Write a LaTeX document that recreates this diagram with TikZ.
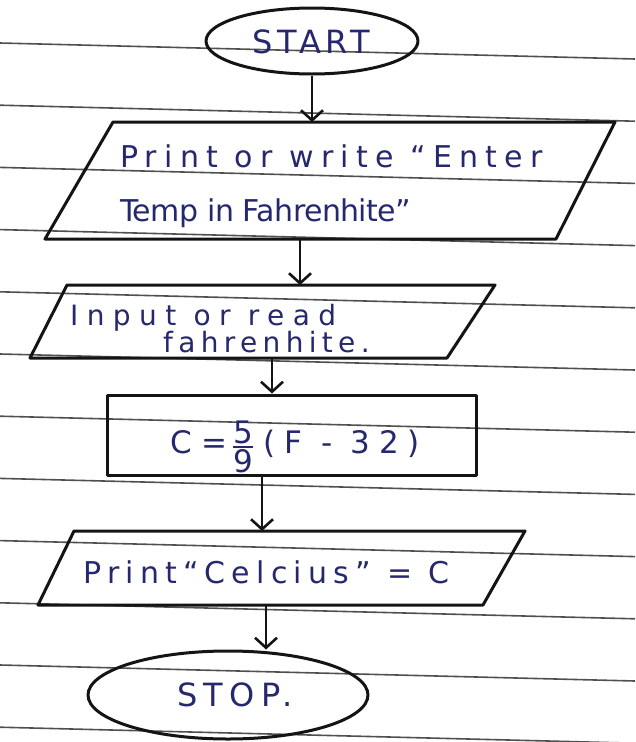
\documentclass[tikz,border=0pt]{standalone}
\usepackage{fontspec}
\usetikzlibrary{shapes.geometric,arrows.meta}
\newfontfamily\handfont{DejaVu Sans}
\newcommand\hwfont[2]{\handfont\fontsize{#1}{#1}\selectfont\addfontfeature{LetterSpace=#2}}
\definecolor{ink}{RGB}{38,40,110}
\definecolor{pen}{RGB}{20,20,20}
\definecolor{ruling}{RGB}{80,80,80}
\begin{document}
\begin{tikzpicture}[x=1pt,y=-1pt,
  outline/.style={draw=pen, line width=3pt, inner sep=0pt, line join=round},
  term/.style={outline, ellipse},
  procbox/.style={outline, rectangle},
  flow/.style={draw=pen, line width=2.6pt, -{Straight Barb[length=10pt,width=22pt]}},
  hand/.style={text=ink, inner sep=0pt},
  paperline/.style={draw=ruling, line width=1.6pt}]
\useasboundingbox[fill=white] (0,0) rectangle (635,742);
\foreach \k in {0,...,11} \draw[paperline] (0,43+62.2*\k) -- (635,59+62.2*\k);

% terminals and process box
\node[term, minimum width=212pt, minimum height=66pt] (start) at (312,41) {};
\node[procbox, minimum width=369pt, minimum height=80pt] (calc) at (292,435) {};
\node[term, minimum width=280pt, minimum height=88pt] (stop) at (228,695) {};

% input/output parallelograms
\coordinate (p1tl) at (113,122); \coordinate (p1tr) at (615,122);
\coordinate (p1br) at (556,239); \coordinate (p1bl) at (45,239);
\coordinate (p2tl) at (67,285);  \coordinate (p2tr) at (495,285);
\coordinate (p2br) at (447,358); \coordinate (p2bl) at (30,358);
\coordinate (p3tl) at (74,531);  \coordinate (p3tr) at (525,531);
\coordinate (p3br) at (483,605); \coordinate (p3bl) at (38,605);
\draw[outline] (p1tl) -- (p1tr) -- (p1br) -- (p1bl) -- cycle;
\draw[outline] (p2tl) -- (p2tr) -- (p2br) -- (p2bl) -- cycle;
\draw[outline] (p3tl) -- (p3tr) -- (p3br) -- (p3bl) -- cycle;

% texts
\node[hand, anchor=base west, font=\hwfont{32}{15}] (startlbl) at (252,53) {START};
\node[hand, anchor=base west, font=\hwfont{30}{24}] (p1a) at (120,167) {Print or write “Enter};
\node[hand, anchor=base west, font=\hwfont{30}{-2}] (p1b) at (120,221) {Temp in Fahrenhite”};
\node[hand, anchor=base west, font=\hwfont{28}{30}] (p2a) at (70,325) {Input or read};
\node[hand, anchor=base west, font=\hwfont{28}{19}] (p2b) at (163,352) {fahrenhite.};
\node[hand, anchor=west, font=\hwfont{31}{28}] (calclbl) at (170,447) {C\hspace{10pt}=\hspace{4pt}${\mbox{5}\above 1.6pt\mbox{9}}$\hspace{10pt}(F - 32)};
\node[hand, anchor=base west, font=\hwfont{30}{21}] (p3a) at (83,583) {Print“Celcius” = C};
\node[hand, anchor=base west, font=\hwfont{32}{20}] (stoplbl) at (177,706) {STOP.};

% connector end points on the parallelogram edges
\coordinate (p1in)  at (start.south |- p1tl);
\coordinate (p1out) at (300,239);
\coordinate (p2in)  at (p1out |- p2tl);
\coordinate (p2out) at (272,358);
\coordinate (p3in)  at ([xshift=-30pt]calc.south |- p3tl);
\coordinate (p3out) at (266,605);

\draw[flow] (start.south) -- (p1in);
\draw[flow] (p1out) -- (p2in);
\draw[flow] (p2out) -- (p2out |- calc.north);
\draw[flow] ([xshift=-30pt]calc.south) -- (p3in);
\draw[flow] (p3out) -- (p3out |- stop.north);
\end{tikzpicture}
\end{document}
